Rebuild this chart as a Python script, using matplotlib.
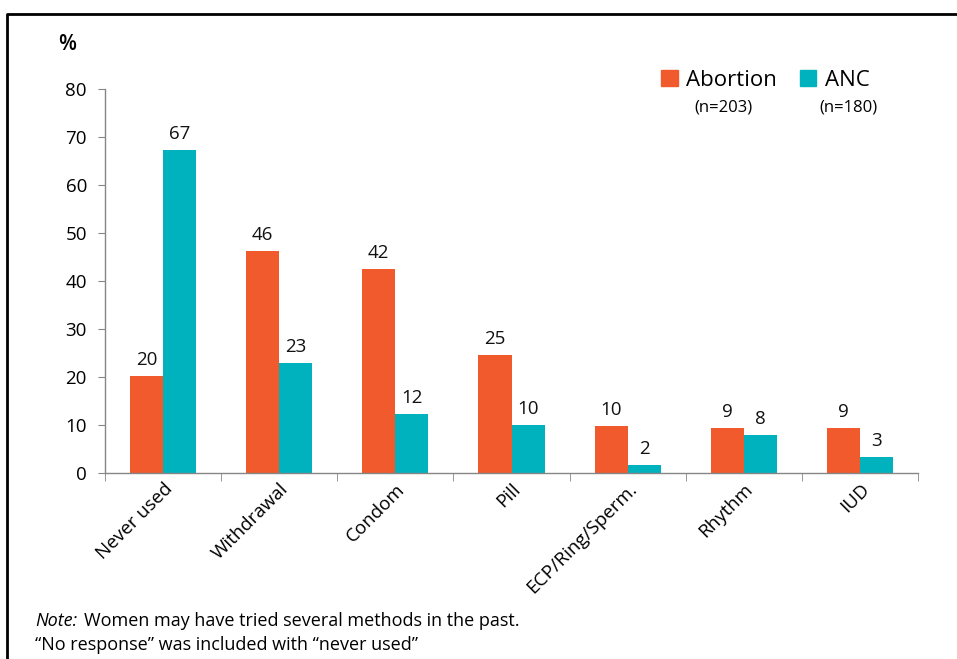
import matplotlib
matplotlib.use("Agg")
import matplotlib.pyplot as plt
from matplotlib.lines import Line2D
from matplotlib.patches import Patch
import numpy as np

categories = ["Never used", "Withdrawal", "Condom", "Pill", "ECP/Ring/Sperm.", "Rhythm", "IUD"]
abortion = [20.2, 46.2, 42.4, 24.6, 9.8, 9.4, 9.4]
anc = [67.3, 22.9, 12.3, 10.0, 1.7, 7.9, 3.3]
series_names = ["Abortion", "ANC"]
series_n = ["(n=203)", "(n=180)"]
yticks = [0, 10, 20, 30, 40, 50, 60, 70, 80]

ORANGE = "#F05A2D"
TEAL = "#00B2BE"
GRAY = "#868686"
FONT = ["Open Sans", "DejaVu Sans"]
plt.rcParams["font.family"] = FONT

fig = plt.figure(figsize=(9.57, 6.59), dpi=100)
ax = fig.add_axes([105/957, 1-473/659, (918-105)/957, (473-89)/659])

x = np.arange(len(categories))
w = 0.285
b1 = ax.bar(x - w/2, abortion, w, color=ORANGE, label=series_names[0])
b2 = ax.bar(x + w/2, anc, w, color=TEAL, label=series_names[1])

for bars, vals in ((b1, abortion), (b2, anc)):
    for r, v in zip(bars, vals):
        ax.text(r.get_x() + r.get_width()/2, v + 1.5, f"{round(v):d}",
                ha="center", va="bottom", fontsize=13.5, color="#111111")

ax.set_xlim(-0.5, len(categories) - 0.5)
ax.set_ylim(0, 80)
ax.set_yticks(yticks)
ax.set_yticklabels([str(t) for t in yticks], fontsize=13.5)
ax.set_xticks(x)
ax.set_xticklabels(categories, rotation=45, ha="right", rotation_mode="anchor", fontsize=13.5)
ax.tick_params(axis="x", length=0, pad=5)
ax.tick_params(axis="y", length=5, color=GRAY, pad=8)
ax.set_xticks(np.arange(len(categories) + 1) - 0.5, minor=True)
ax.tick_params(axis="x", which="minor", length=6, color=GRAY, direction="out")

for s in ("top", "right"):
    ax.spines[s].set_visible(False)
for s in ("left", "bottom"):
    ax.spines[s].set_color(GRAY)
    ax.spines[s].set_linewidth(1.0)

fig.text(67/957, 1-45/659, "%", fontsize=15, ha="center", va="center", fontweight="semibold")

handles = [Patch(color=ORANGE), Patch(color=TEAL)]
fig.legend(handles, series_names, loc="center left", bbox_to_anchor=(652/957, 1-80/659),
           ncol=2, frameon=False, fontsize=16, handlelength=0.75, handleheight=0.75,
           handletextpad=0.4, columnspacing=1.0, borderaxespad=0)
fig.text(723/957, 1-108/659, series_n[0], fontsize=12, ha="center", va="center")
fig.text(848/957, 1-108/659, series_n[1], fontsize=12, ha="center", va="center")

fig.text(35/957, 1-621/659, "Note:", fontsize=13, va="center", ha="left", style="italic")
fig.text(84/957, 1-621/659, "Women may have tried several methods in the past.", fontsize=13,
         va="center", ha="left")
fig.text(35/957, 1-645/659, "\u201cNo response\u201d was included with \u201cnever used\u201d", fontsize=13,
         va="center", ha="left")

fig.add_artist(Line2D([7/957, 7/957, 1], [0, 1-14/659, 1-14/659], transform=fig.transFigure,
                      color="black", linewidth=2))

fig.savefig("out.png", dpi=100)
